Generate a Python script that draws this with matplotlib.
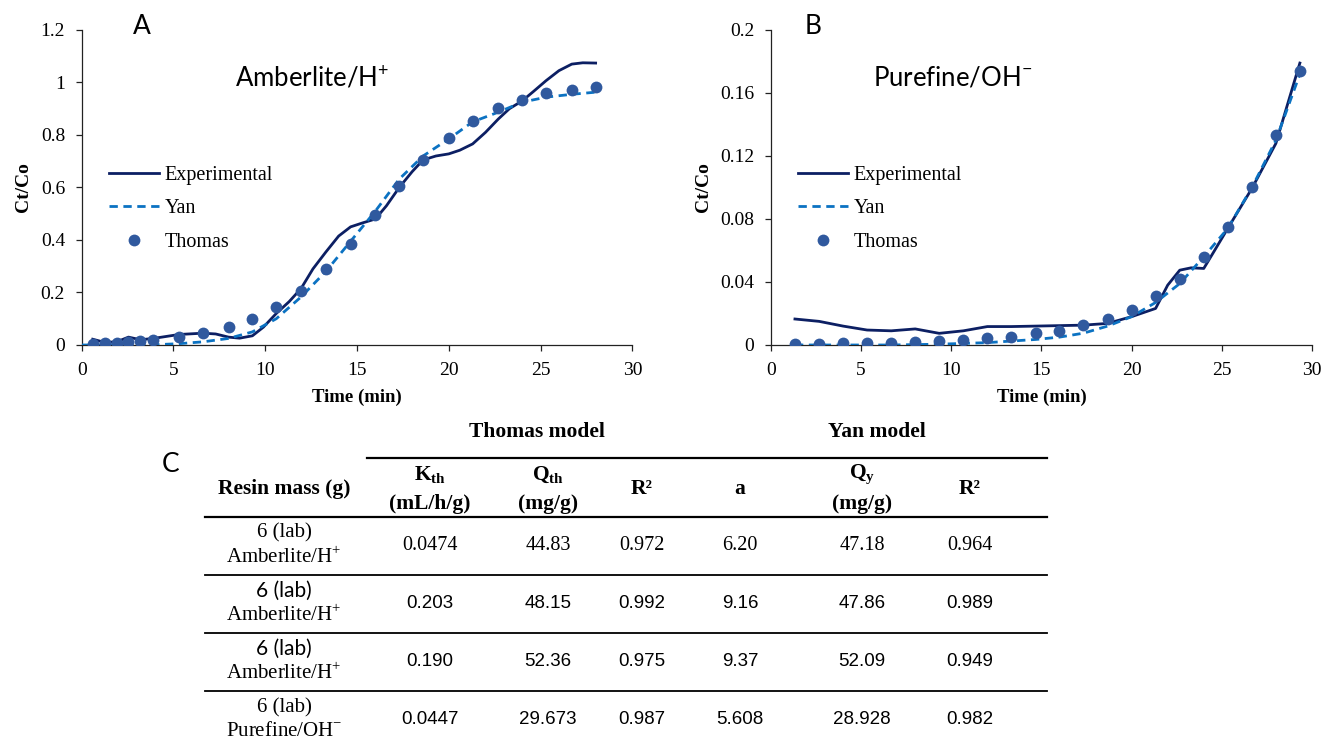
import matplotlib.pyplot as plt
from matplotlib.ticker import FuncFormatter, MultipleLocator

# ---- panel A : Amberlite/H+ ----
a_thomas_t = [0.6, 1.25, 1.9, 2.55, 3.2, 3.9, 5.3, 6.6, 8.0, 9.3, 10.6, 11.95,
              13.3, 14.65, 16.0, 17.3, 18.6, 20.0, 21.3, 22.7, 24.0, 25.3, 26.7, 28.0]
a_thomas = [0.005, 0.008, 0.008, 0.013, 0.015, 0.02, 0.03, 0.045, 0.067, 0.099, 0.145, 0.207,
            0.29, 0.386, 0.495, 0.606, 0.703, 0.789, 0.855, 0.902, 0.933, 0.96, 0.972, 0.983]
a_exp_t = [0.6, 1.25, 1.9, 2.55, 3.2, 3.9, 5.3, 6.6, 7.3, 8.0, 8.6, 9.3, 9.9, 10.6, 11.3,
           11.95, 12.6, 13.3, 14.0, 14.65, 15.3, 16.0, 16.6, 17.3, 18.0, 18.6, 19.3, 20.0,
           20.6, 21.3, 22.0, 22.7, 23.3, 24.0, 24.6, 25.3, 26.0, 26.7, 27.3, 28.0]
a_exp = [0.022, 0.01, 0.012, 0.03, 0.02, 0.025, 0.04, 0.045, 0.042, 0.03, 0.026, 0.035,
         0.068, 0.12, 0.165, 0.215, 0.29, 0.354, 0.415, 0.45, 0.465, 0.48, 0.53, 0.6, 0.66,
         0.705, 0.72, 0.728, 0.742, 0.766, 0.81, 0.861, 0.9, 0.93, 0.965, 1.007, 1.045,
         1.07, 1.075, 1.074]
a_yan_t = [0.0, 2.0, 4.0, 5.3, 6.6, 8.0, 9.3, 10.6, 11.95, 13.3, 14.65, 16.0, 17.3, 18.6,
           20.0, 21.3, 22.7, 24.0, 25.3, 26.7, 28.0]
a_yan = [0.0, 0.0, 0.001, 0.005, 0.012, 0.025, 0.05, 0.1, 0.183, 0.28, 0.395, 0.51, 0.632,
         0.72, 0.785, 0.85, 0.887, 0.925, 0.944, 0.955, 0.963]

# ---- panel B : Purefine/OH- ----
b_thomas_t = [1.33, 2.67, 4.0, 5.33, 6.67, 8.0, 9.33, 10.67, 12.0, 13.33, 14.67, 16.0,
              17.33, 18.67, 20.0, 21.33, 22.67, 24.0, 25.33, 26.67, 28.0, 29.33]
b_thomas = [0.0004, 0.0004, 0.001, 0.001, 0.001, 0.0017, 0.0025, 0.0032, 0.0043, 0.0053,
            0.0074, 0.0091, 0.0126, 0.0168, 0.0225, 0.0311, 0.0416, 0.0559, 0.0752,
            0.1006, 0.1333, 0.174]
b_exp_t = [1.33, 2.67, 4.0, 5.33, 6.67, 8.0, 9.33, 10.67, 12.0, 13.33, 14.67, 16.0, 17.33,
           18.67, 20.0, 21.33, 22.0, 22.67, 23.3, 24.0, 24.6, 25.33, 26.67, 28.0, 29.33]
b_exp = [0.0165, 0.015, 0.012, 0.0095, 0.009, 0.0102, 0.0074, 0.009, 0.0117, 0.0117,
         0.012, 0.0123, 0.0126, 0.0137, 0.018, 0.0232, 0.038, 0.0475, 0.049, 0.0486,
         0.06, 0.074, 0.0994, 0.128, 0.179]
b_yan_t = [1.33, 4.0, 6.67, 9.33, 12.0, 13.33, 14.67, 16.0, 17.33, 18.67, 20.0, 21.33,
           22.67, 24.0, 25.33, 26.67, 28.0, 29.33]
b_yan = [0.0, 0.0, 0.0, 0.0005, 0.0015, 0.0025, 0.0035, 0.005, 0.0075, 0.012, 0.018,
         0.027, 0.039, 0.056, 0.074, 0.1, 0.13, 0.172]

series_names = ["Experimental", "Yan", "Thomas"]

# ---- table ----
col_heads = ["K$_{\\mathregular{th}}$", "Q$_{\\mathregular{th}}$", "R²", "a",
             "Q$_{\\mathregular{y}}$", "R²"]
col_units = ["(mL/h/g)", "(mg/g)", "", "", "(mg/g)", ""]
row_mass = ["6 (lab)", "6 (lab)", "6 (lab)", "6 (lab)"]
row_resin = ["Amberlite/H$^{\\mathregular{+}}$", "Amberlite/H$^{\\mathregular{+}}$",
             "Amberlite/H$^{\\mathregular{+}}$", "Purefine/OH$^{\\mathregular{-}}$"]
k_th = ["0.0474", "0.203", "0.190", "0.0447"]
q_th = ["44.83", "48.15", "52.36", "29.673"]
r2_th = ["0.972", "0.992", "0.975", "0.987"]
a_val = ["6.20", "9.16", "9.37", "5.608"]
q_y = ["47.18", "47.86", "52.09", "28.928"]
r2_y = ["0.964", "0.989", "0.949", "0.982"]

EXP_C = "#0c1f63"
YAN_C = "#0b72c2"
TH_C = "#30599e"
SERIF = ["Liberation Serif", "DejaVu Serif"]
SANS = ["Lato", "Liberation Sans", "DejaVu Sans"]
NARROW = ["Liberation Sans Narrow", "Liberation Sans", "DejaVu Sans"]


def style_axes(ax, ymax, ystep):
    for s in ["top", "right"]:
        ax.spines[s].set_visible(False)
    for s in ["left", "bottom"]:
        ax.spines[s].set_linewidth(0.9)
        ax.spines[s].set_color("#222222")
    ax.set_xlim(0, 30)
    ax.set_ylim(0, ymax)
    ax.xaxis.set_major_locator(MultipleLocator(5))
    ax.yaxis.set_major_locator(MultipleLocator(ystep))
    ax.yaxis.set_major_formatter(FuncFormatter(lambda v, p: "%g" % round(v, 4)))
    ax.tick_params(direction="out", length=4, width=0.9, color="#222222", pad=8,
                   labelsize=14, labelfontfamily=SERIF[0])
    ax.set_xlabel("Time (min)", family=SERIF, fontweight="bold", fontsize=13.5, labelpad=7)
    ax.set_ylabel("Ct/Co", family=SERIF, fontweight="bold", fontsize=14, labelpad=6)


def draw_panel(ax, et, ev, yt, yv, tt, tv):
    ax.plot(et, ev, color=EXP_C, lw=2.0, label=series_names[0], zorder=2)
    ax.plot(yt, yv, color=YAN_C, lw=2.0, ls=(0, (3, 2)), label=series_names[1], zorder=3)
    ax.plot(tt, tv, "o", color=TH_C, ms=8.5, mec="none", label=series_names[2], zorder=4)
    ax.legend(loc="upper left", bbox_to_anchor=(0.035, 0.595), frameon=False,
              prop={"family": SERIF, "size": 14.5}, handlelength=2.5,
              handletextpad=0.25, labelspacing=0.72, borderaxespad=0)


fig = plt.figure(figsize=(13.24, 7.44), dpi=100)

axA = fig.add_axes([0.0617, 0.5363, 0.4159, 0.4234])
draw_panel(axA, a_exp_t, a_exp, a_yan_t, a_yan, a_thomas_t, a_thomas)
style_axes(axA, 1.2, 0.2)

axB = fig.add_axes([0.5823, 0.5363, 0.4086, 0.4234])
draw_panel(axB, b_exp_t, b_exp, b_yan_t, b_yan, b_thomas_t, b_thomas)
style_axes(axB, 0.2, 0.04)

# panel letters and titles
fig.text(142 / 1324, 1 - 26 / 744, "A", family=SANS, fontsize=19, ha="center", va="center")
fig.text(813 / 1324, 1 - 26 / 744, "B", family=SANS, fontsize=19, ha="center", va="center")
fig.text(171 / 1324, 1 - 465 / 744, "C", family=SANS, fontsize=19, ha="center", va="center")
fig.text(312 / 1324, 1 - 78 / 744, "Amberlite/H$^{\\mathregular{+}}$", family=SANS,
         fontsize=18.5, ha="center", va="center")
fig.text(953 / 1324, 1 - 78 / 744, "Purefine/OH$^{\\mathregular{-}}$", family=SANS,
         fontsize=18.5, ha="center", va="center")

# table drawn in pixel coordinates
axT = fig.add_axes([0, 0, 1, 1], zorder=-1)
axT.set_xlim(0, 1324)
axT.set_ylim(744, 0)
axT.axis("off")

col_x = [430, 548, 642, 740, 862, 970]
hdr = dict(family=SERIF, fontweight="bold", fontsize=15.5, ha="center", va="center")
axT.text(537, 432, "Thomas model", **hdr)
axT.text(877, 432, "Yan model", **hdr)
axT.plot([367, 1047], [458, 458], color="black", lw=1.6)
axT.text(284, 489, "Resin mass (g)", **hdr)
for x, h, u in zip(col_x, col_heads, col_units):
    if u:
        axT.text(x, 475, h, **hdr)
        axT.text(x, 504, u, **hdr)
    else:
        axT.text(x, 489, h, **hdr)
axT.plot([205, 1047], [517, 517], color="black", lw=1.6)

row_y = [545, 603, 661, 720]
sep_y = [575, 633, 691]
for i in range(4):
    y = row_y[i]
    mass_font = SANS if i in (1, 2) else SERIF
    num_font = SERIF if i == 0 else NARROW
    num_size = 14.5 if i == 0 else 13.5
    axT.text(284, y - 12, row_mass[i], family=mass_font, fontsize=15, ha="center", va="center")
    axT.text(284, y + 12, row_resin[i], family=SERIF, fontsize=15, ha="center", va="center")
    vals = [k_th[i], q_th[i], r2_th[i], a_val[i], q_y[i], r2_y[i]]
    for x, v in zip(col_x, vals):
        axT.text(x, y, v, family=num_font, fontsize=num_size, ha="center", va="center")
for y in sep_y:
    axT.plot([205, 1047], [y, y], color="black", lw=1.3)

fig.savefig("out.png", dpi=100)
